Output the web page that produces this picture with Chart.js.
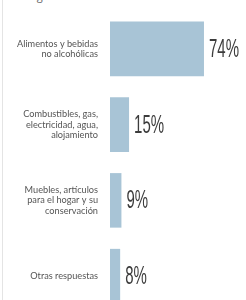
<!DOCTYPE html>
<html>
<head>
<meta charset="utf-8">
<script src="https://cdn.jsdelivr.net/npm/chart.js@4"></script>
<style>
  html, body { margin: 0; padding: 0; background: #fff; }
  body { width: 246px; height: 300px; overflow: hidden; position: relative; }
  #edge { position: absolute; left: 2px; top: 0; width: 1px; height: 300px; background: #e4e4e4; }
  #note { position: absolute; left: 10px; top: -12px; font: 11px "Open Sans", sans-serif; color: #666; }
  #wrap { position: absolute; left: 0; top: 11px; width: 246px; height: 303px; }
</style>
</head>
<body>
<div id="edge"></div>
<div id="note">o Pregunta abierta.</div>
<div id="wrap"><canvas id="chart"></canvas></div>
<script>
const categories = [
  ["Alimentos y bebidas", "no alcohólicas"],
  ["Combustibles, gas,", "electricidad, agua,", "alojamiento"],
  ["Muebles, artículos", "para el hogar y su", "conservación"],
  ["Otras respuestas"],
];
const percents = [74, 15, 9, 8];

// big condensed numbers at the end of each bar
const valueLabels = {
  id: "valueLabels",
  afterDatasetsDraw(chart) {
    const ctx = chart.ctx;
    const meta = chart.getDatasetMeta(0);
    meta.data.forEach((bar, i) => {
      ctx.save();
      ctx.translate(bar.x + 5, bar.y + 1);
      ctx.scale(0.6, 1);
      ctx.font = "25px 'Liberation Sans', sans-serif";
      ctx.fillStyle = "#3c3c3c";
      ctx.textBaseline = "middle";
      ctx.textAlign = "left";
      ctx.fillText(percents[i] + "%", 0, 0);
      ctx.restore();
    });
  },
};

new Chart(document.getElementById("chart"), {
  type: "bar",
  data: {
    labels: categories,
    datasets: [
      {
        data: percents,
        backgroundColor: "#a8c4d6",
        borderWidth: 0,
        categoryPercentage: 0.72,
        barPercentage: 1,
      },
    ],
  },
  options: {
    indexAxis: "y",
    responsive: true,
    maintainAspectRatio: false,
    animation: false,
    layout: { padding: { left: 0, right: 9, top: 0, bottom: 0 } },
    scales: {
      x: {
        min: 0,
        max: 100,
        display: false,
      },
      y: {
        grid: { display: false },
        border: { display: false },
        ticks: {
          color: "#555",
          padding: 4,
          font: { family: "Lato", size: 9.2, lineHeight: 1.15 },
        },
        afterFit(axis) {
          axis.width = 110;
          axis.paddingTop = 0;
          axis.paddingBottom = 0;
        },
      },
    },
    plugins: {
      legend: { display: false },
      tooltip: { enabled: false },
    },
  },
  plugins: [valueLabels],
});
</script>
</body>
</html>
